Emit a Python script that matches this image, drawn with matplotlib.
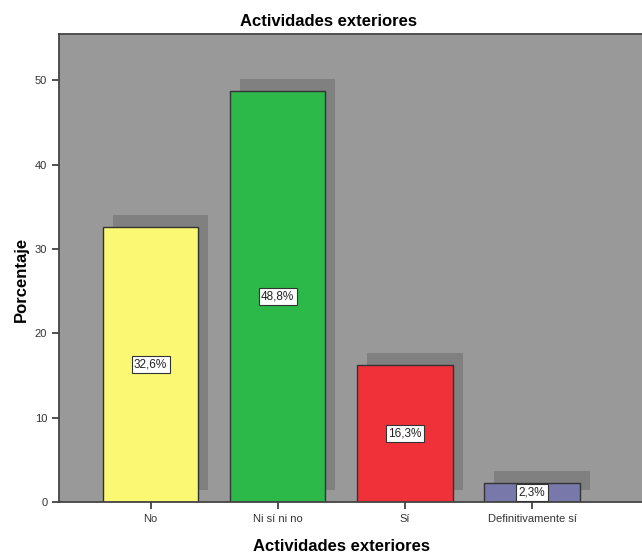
import matplotlib.pyplot as plt
import matplotlib.transforms as mtransforms
from matplotlib import font_manager

categorias = ["No", "Ni sí ni no", "Sí", "Definitivamente sí"]
porcentajes = [32.6, 48.8, 16.3, 2.3]
etiquetas = ["32,6%", "48,8%", "16,3%", "2,3%"]
colores = ["#FBF873", "#2DB84A", "#F0313A", "#7878AA"]

nombres = {f.name for f in font_manager.fontManager.ttflist}
fuente = "Liberation Sans Narrow" if "Liberation Sans Narrow" in nombres else "Liberation Sans"
plt.rcParams['font.family'] = [fuente, 'DejaVu Sans']

fig = plt.figure(figsize=(6.42, 5.55), dpi=100)
ax = fig.add_axes([0.092, 0.0955, 0.915, 0.8432])
ax.set_facecolor("#999999")

x = list(range(len(categorias)))

# sombra desplazada hacia arriba y a la derecha
sombra = ax.transData + mtransforms.ScaledTranslation(0.10, 0.12, fig.dpi_scale_trans)
ax.bar(x, porcentajes, width=0.75, color="#808080", transform=sombra, zorder=1)

ax.bar(x, porcentajes, width=0.75, color=colores, edgecolor="#333333", linewidth=1.0, zorder=2)

for xi, v, t in zip(x, porcentajes, etiquetas):
    ax.text(xi, v / 2, t, ha="center", va="center", fontsize=8.5, color="#222222", zorder=3,
            bbox=dict(boxstyle="square,pad=0.2", facecolor="white", edgecolor="#333333", linewidth=0.8))

ax.set_xlim(-0.72, 3.9)
ax.set_ylim(0, 55.5)
ax.set_yticks([0, 10, 20, 30, 40, 50])
ax.set_xticks(x)
ax.set_xticklabels(categorias)
ax.tick_params(axis="both", labelsize=8, colors="#333333", length=5, width=1.2)

ax.spines["right"].set_visible(False)
for s in ["left", "top", "bottom"]:
    ax.spines[s].set_color("#444444")
    ax.spines[s].set_linewidth(1.3)

ax.set_title("Actividades exteriores", fontsize=12, fontweight="bold", pad=6, x=0.458)
ax.set_xlabel("Actividades exteriores", fontsize=12, fontweight="bold")
ax.xaxis.set_label_coords(0.48, -0.08)
ax.set_ylabel("Porcentaje", fontsize=12, fontweight="bold")
ax.yaxis.set_label_coords(-0.052, 0.476)

fig.savefig("out.png", dpi=100)
